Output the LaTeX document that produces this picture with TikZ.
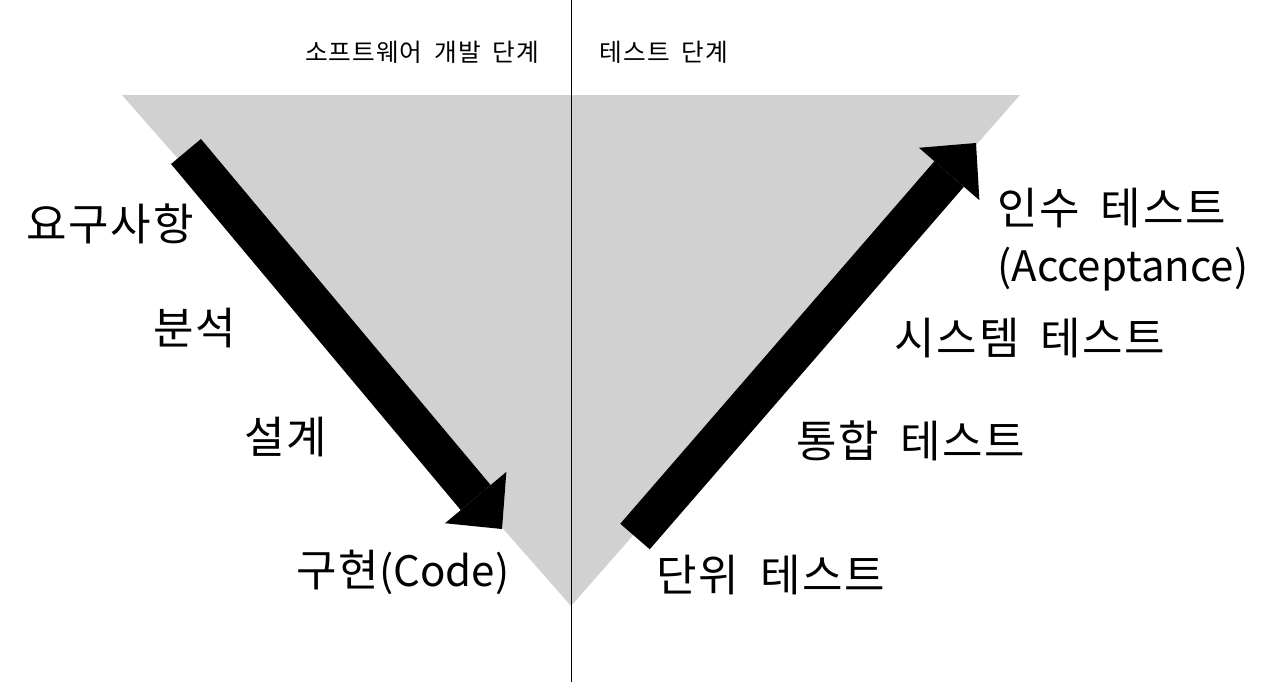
\documentclass[tikz,border=0pt]{standalone}
\usepackage{fontspec}
\setmainfont{Noto Sans CJK KR}[LetterSpace=4, WordSpace=1.8]
\newfontfamily\engfont{Noto Sans CJK KR}
\usetikzlibrary{arrows.meta}
\definecolor{vgray}{RGB}{209,209,209}
\newcommand{\eng}[1]{{\engfont\fontsize{31.5}{44}\selectfont #1}}

\begin{document}
\begin{tikzpicture}[x=0.75pt, y=-0.75pt,
    phase style/.style={font=\fontsize{18.5}{23}\selectfont, inner sep=0pt},
    label style/.style={font=\fontsize{33}{42.75}\selectfont, inner sep=0pt, align=left},
    flow style/.style={line width=29.25pt, -{Triangle[length=30.75pt, width=60pt, line width=0pt]}},]
    \useasboundingbox (0,0) rectangle (1270,682);
    %\draw (0,0) rectangle (1270,682);

    \coordinate (TL) at (122,95);
    \coordinate (TR) at (1020,95);
    \coordinate (apex) at (571,606);
    \coordinate (top) at (571,0);
    \coordinate (bottom) at (571,682);
    \coordinate (dev start) at (186,151.5);
    \coordinate (dev end) at (502,529);
    \coordinate (test start) at (635,536.5);
    \coordinate (test end) at (976,143);

    \fill[vgray] (TL) -- (TR) -- (apex) -- cycle;
    \draw[line width=0.75pt] (top) -- (bottom);

    \draw[style=flow style] (dev start) -- (dev end);
    \draw[style=flow style] (test start) -- (test end);

    \node[style=phase style] (dev) at (422,52) {소프트웨어 개발 단계};
    \node[style=phase style] (test) at (664,52) {테스트 단계};

    \node[style=label style] (req) at (110,224) {요구사항};
    \node[style=label style] (anal) at (195,328) {분석};
    \node[style=label style] (design) at (286,437) {설계};
    \node[style=label style] (code) at (403,572) {구현\eng{(Code)}};

    \node[style=label style] (unit) at (771,575) {단위 테스트};
    \node[style=label style] (integ) at (911,441) {통합 테스트};
    \node[style=label style] (system) at (1030,338) {시스템 테스트};
    \node[style=label style, anchor=west] (accept) at (997,240) {인수 테스트\\\eng{(Acceptance)}};

\end{tikzpicture}
\end{document}
